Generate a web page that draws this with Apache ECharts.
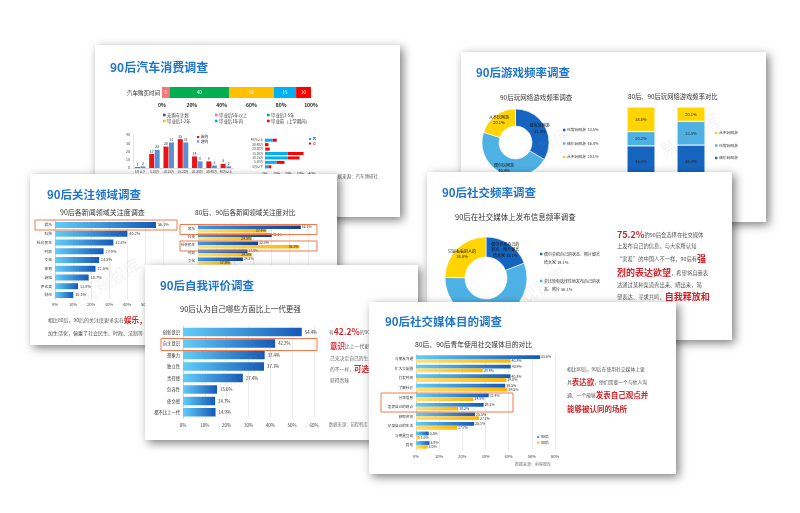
<!DOCTYPE html>
<html><head><meta charset="utf-8">
<script src="https://cdn.jsdelivr.net/npm/echarts/dist/echarts.min.js"></script>
<style>html,body{margin:0;padding:0;background:#fff}#c{width:800px;height:513px}</style>
</head><body><div id="c"></div><script>
// ---------- DATA ----------
// Slide 1: 90后汽车消费调查
const carBuyCategory = ['汽车购买时间'];
const carBuyNames = ['毕业后5年以上','毕业后3-5年','毕业后1-2年','毕业后1年内','毕业前（上学期间）'];
const carBuyValues = [5, 40, 30, 15, 10];
const carLegendNames = ['无购车计划','毕业后5年以上','毕业后3-5年','毕业后1-2年','毕业后1年内','毕业前（上学期间）'];
const carPriceCats = ['5万以下','5-10万','10-15万','15-20万','20-30万','30-40万','40万以上'];
const carPriceSeries = ['首购','增购'];
const carPriceFirst = [1, 17, 26, 35, 14, 8, 5];
const carPriceAgain = [2, 22, 31, 31, 8, 3, 2];
const carBudgetCats = ['40万以上','30-40万','20-30万','15-20万','10-15万','5-10万','5万以下'];
const carBudgetSeries = ['男','女'];
const carBudgetMale = [6.6, 0, 0.6, 19.4, 19.4, 10, 3];
const carBudgetFemale = [3.4, 3, 3.4, 13.4, 10, 6.6, 2.3];
// Slide 2: 90后游戏频率调查
const gameFreqNames = ['经常玩网游','偶尔玩网游','从不玩网游'];
const gameFreqValues = [33.5, 46.4, 20.1];
const gameGenCats = ['80后','90后'];
const gameStackNames = ['偶尔玩网游','经常玩网游','从不玩网游'];
const gameOccasional = [45.3, 46.4];
const gameOften = [20.2, 33.5];
const gameNever = [34.6, 20.1];
const gameLegendNames = ['从不玩网游','经常玩网游','偶尔玩网游'];
// Slide 3: 90后关注领域调查
const newsCats = ['娱乐','科技','社会民生','时政','文化','体育','游戏','评论类','财经'];
const news90 = [56.1, 40.2, 32.4, 27.0, 24.5, 22.5, 18.7, 12.8, 10.1];
const newsCmp90 = [56.1, 40.2, 32.8, 27.0, 24.5, 22.5, 18.7, 12.8, 10.1];
const newsCmp80 = [37.4, 29.5, 55.3, 29.5, 17.8, 25.2, 12.3, 14.6, 20.4];
// Slide 4: 90后社交频率调查
const socialFreqNames = ['偶尔会把自己的状态、照片留言给大家','会比较有选择性地发布自己的状态、照片','只是看看别人的'];
const socialFreqValues = [19.1, 56.1, 24.8];
// Slide 5: 90后自我评价调查
const selfCats = ['创新意识','自主意识','想象力','独立性','责任感','包容性','使命感','都不比上一代'];
const selfValues = [54.4, 42.2, 37.4, 37.1, 27.4, 15.6, 14.7, 14.9];
// Slide 6: 90后社交媒体目的调查
const purposeCats = ['与朋友沟通','扩大交友圈','打发时间','了解社会','分享信息','发表自己的观点','获取资讯','记录自己的生活','与明星互动','其他'];
const purposeSeries = ['90后','80后'];
const purpose90 = [53.6, 40.9, 40.8, 38.5, 31.4, 29.2, 25.5, 25.1, 5.5, 5.8];
const purpose80 = [40.8, 28.9, 39.0, 39.5, 24.8, 18.2, 27.2, 17.7, 1.6, 5.0];

// ---------- STYLE ----------
const FONT = '"Noto Sans CJK SC","Noto Sans",sans-serif';
const TITLE = '#1f74cc';
const RED = '#d2232a';
const DKBLUE = '#1565c0', LTBLUE = '#4db1e6', YELLOW = '#ffd400';
const G = echarts.graphic;
const blueGrad = () => new G.LinearGradient(0,0,1,0,[{offset:0,color:'#62cdf8'},{offset:1,color:'#1559b8'}]);
const deepGrad = () => new G.LinearGradient(0,0,1,0,[{offset:0,color:'#3f9be6'},{offset:1,color:'#0c3f92'}]);
const yelGrad = () => new G.LinearGradient(0,0,1,0,[{offset:0,color:'#ffe27a'},{offset:1,color:'#ffb400'}]);
const pct = p => p.value.toFixed(1) + '%';

const grids = [], xAxes = [], yAxes = [], series = [], gfx = [];
function addGrid(g){ grids.push(g); return grids.length - 1; }
function valAxis(gi, max, interval, z, fs, extra){
  return Object.assign({type:'value', gridIndex:gi, min:0, max, interval, z,
    axisLabel:{fontSize:fs, color:'#444', formatter:'{value}%', margin:3},
    splitLine:{show:true, lineStyle:{color:'#d9d9d9', width:0.5}},
    axisLine:{show:false}, axisTick:{show:false}}, extra || {});
}
function catAxis(gi, data, z, fs, extra){
  return Object.assign({type:'category', gridIndex:gi, data, inverse:true, z,
    axisLabel:{fontSize:fs, color:'#333', interval:0, margin:3},
    axisLine:{show:true, lineStyle:{color:'#bfbfbf', width:0.5}}, axisTick:{show:false}}, extra || {});
}
function slide(x,y,w,h,z){
  return {type:'rect', z, silent:true, shape:{x,y,width:w,height:h},
    style:{fill:'#fff', shadowBlur:9, shadowColor:'rgba(0,0,0,0.5)', shadowOffsetX:3, shadowOffsetY:3}};
}
function txt(x,y,text,z,opt){
  return {type:'text', x, y, z, silent:true,
    style:Object.assign({text, fill:'#333', fontSize:6, fontFamily:FONT, textVerticalAlign:'middle'}, opt || {})};
}
function rich(x,y,text,z,nSize,rSize,nColor){
  return {type:'text', x, y, z, silent:true, style:{text, textVerticalAlign:'middle', fontFamily:FONT,
    rich:{n:{fill:nColor || '#555', fontSize:nSize, fontFamily:FONT},
          r:{fill:RED, fontSize:rSize, fontWeight:'bold', fontFamily:FONT}}}};
}
function box(x,y,w,h,z){
  return {type:'rect', z, silent:true, shape:{x,y,width:w,height:h}, style:{fill:'none', stroke:'#f27a4c', lineWidth:1}};
}
function legendItem(x,y,name,color,z,fs,ms,circle){
  const m = circle
    ? {type:'circle', z, silent:true, shape:{cx:x+ms/2, cy:y, r:ms/2}, style:{fill:color}}
    : {type:'rect', z, silent:true, shape:{x, y:y-ms/2, width:ms, height:ms}, style:{fill:color}};
  return [m, txt(x+ms+1.5, y, name, z, {fontSize:fs, fill:'#333'})];
}
function watermark(x,y,z){
  return {type:'text', x, y, z, silent:true, rotation:0.55,
    style:{text:'易观智库', fill:'rgba(150,150,150,0.10)', fontSize:17, fontFamily:FONT, textAlign:'center', textVerticalAlign:'middle'}};
}
function wrap(s, n){ const out=[]; for(let i=0;i<s.length;i+=n) out.push(s.slice(i,i+n)); return out; }

// ---------- SLIDE 1 (z 10) ----------
gfx.push(slide(95,45,305,172,10));
gfx.push(txt(110,67,'90后汽车消费调查',13,{fontSize:12,fontWeight:'bold',fill:TITLE}));
const carBuyColors = ['#f4777a','#00b050','#ffc000','#00b0f0','#ff0000'];
const g0 = addGrid({left:162, top:87, width:149, height:11});
xAxes.push({type:'value', gridIndex:g0, min:0, max:100, interval:20, z:11,
  axisLabel:{fontSize:5, fontWeight:'bold', color:'#222', formatter:'{value}%', margin:5},
  splitLine:{show:false}, axisLine:{show:false}, axisTick:{show:false}});
yAxes.push({type:'category', gridIndex:g0, data:carBuyCategory, z:11,
  axisLabel:{fontSize:5.5, color:'#222', margin:2}, axisLine:{show:true, lineStyle:{color:'#999', width:0.5}}, axisTick:{show:false}});
carBuyNames.forEach((n,i)=>series.push({type:'bar', name:n, stack:'buy', xAxisIndex:xAxes.length-1, yAxisIndex:yAxes.length-1,
  data:[carBuyValues[i]], barWidth:11, z:12, itemStyle:{color:carBuyColors[i]},
  label:{show:true, position:'inside', color:'#fff', fontSize:4.5}}));
const carLegendColors = ['#2f5597','#f4777a','#00b050','#ffc000','#00b0f0','#ff0000'];
carLegendNames.forEach((n,i)=>gfx.push(...legendItem(163 + (i%3)*52, 115 + Math.floor(i/3)*6, n, carLegendColors[i], 13, 4.3, 2.6)));
// price column chart
const g1 = addGrid({left:133, top:135, width:100, height:33});
xAxes.push({type:'category', gridIndex:g1, data:carPriceCats, z:11,
  axisLabel:{fontSize:3, color:'#444', interval:0, margin:2}, axisLine:{lineStyle:{color:'#bbb', width:0.5}}, axisTick:{show:false}});
yAxes.push({type:'value', gridIndex:g1, min:0, max:40, interval:10, z:11,
  axisLabel:{fontSize:3.5, color:'#444', margin:3}, splitLine:{show:false}, axisLine:{show:true, lineStyle:{color:'#ccc', width:0.5}}, axisTick:{show:false}});
[[carPriceFirst,'#e8141a'],[carPriceAgain,'#5b8fd6']].forEach(([d,c],i)=>series.push({type:'bar', name:carPriceSeries[i],
  xAxisIndex:xAxes.length-1, yAxisIndex:yAxes.length-1, data:d, barWidth:5, barGap:'10%', z:12, itemStyle:{color:c},
  label:{show:true, position:'top', fontSize:3.5, color:'#333', distance:1}}));
gfx.push(...legendItem(197,137,carPriceSeries[0],'#e8141a',13,3.8,2.2));
gfx.push(...legendItem(197,141.5,carPriceSeries[1],'#5b8fd6',13,3.8,2.2));
// budget horizontal stacked
const g2 = addGrid({left:265, top:138, width:47, height:31});
xAxes.push(valAxis(g2, 40, 10, 11, 3.5, {splitLine:{show:false}}));
yAxes.push(catAxis(g2, carBudgetCats, 11, 3, {axisLabel:{fontSize:3, color:'#444', interval:0, margin:2}}));
[[carBudgetMale,'#00b0f0'],[carBudgetFemale,'#ff0000']].forEach(([d,c],i)=>series.push({type:'bar', name:carBudgetSeries[i], stack:'bud',
  xAxisIndex:xAxes.length-1, yAxisIndex:yAxes.length-1, data:d, barWidth:3, z:12, itemStyle:{color:c}}));
gfx.push(...legendItem(309,139,carBudgetSeries[0],'#00b0f0',13,3.8,2));
gfx.push(...legendItem(309,143.5,carBudgetSeries[1],'#ff0000',13,3.8,2));
gfx.push(txt(333,176,'数据来源：汽车博研社',13,{fontSize:4.5,fill:'#666'}));

// ---------- SLIDE 2 (z 20) ----------
gfx.push(slide(461,52,305,170,20));
gfx.push(txt(476,73,'90后游戏频率调查',23,{fontSize:11.5,fontWeight:'bold',fill:TITLE}));
gfx.push(txt(500,98,'90后玩网络游戏频率调查',23,{fontSize:6.5,fill:'#333'}));
gfx.push(txt(628,97,'80后、90后玩网络游戏频率对比',23,{fontSize:6.3,fill:'#333'}));
const gameColors = [DKBLUE, LTBLUE, YELLOW];
series.push({type:'pie', z:22, center:[515.5,142.5], radius:[16.5,33.5], startAngle:90, clockwise:true, silent:true,
  data:gameFreqNames.map((n,i)=>({name:n, value:gameFreqValues[i], itemStyle:{color:gameColors[i]}})),
  itemStyle:{borderColor:'#fff', borderWidth:0.6}, labelLine:{show:false},
  label:{show:true, position:'inside', fontSize:4, lineHeight:5.5, color:'#111', formatter:p=>p.name+'\n'+pct(p)}});
gameFreqNames.forEach((n,i)=>gfx.push(...legendItem(563,130+i*13.5,n+'  '+gameFreqValues[i].toFixed(1)+'%',gameColors[i],23,3.8,2.4)));
const g3 = addGrid({left:616, top:107, width:100, height:71});
xAxes.push({type:'category', gridIndex:g3, data:gameGenCats, show:false, z:21});
yAxes.push({type:'value', gridIndex:g3, min:0, max:100.1, show:false, z:21, splitLine:{show:false}});
[[gameOccasional,DKBLUE],[gameOften,LTBLUE],[gameNever,YELLOW]].forEach(([d,c],i)=>series.push({type:'bar', name:gameStackNames[i], stack:'g',
  xAxisIndex:xAxes.length-1, yAxisIndex:yAxes.length-1, data:d, barWidth:28, z:22,
  itemStyle:{color:c, borderColor:'#fff', borderWidth:0.5},
  label:{show:true, position:'inside', fontSize:4, color:'#222', formatter:pct}}));
const gameLegendColors = [YELLOW, LTBLUE, DKBLUE];
gameLegendNames.forEach((n,i)=>gfx.push(...legendItem(715,133+i*12.5,n,gameLegendColors[i],23,3.8,2.4)));
gfx.push(watermark(540,150,23), watermark(690,135,23));

// ---------- SLIDE 3 (z 30) ----------
gfx.push(slide(30,174,307,171,30));
gfx.push(txt(47,195,'90后关注领域调查',33,{fontSize:11.5,fontWeight:'bold',fill:TITLE}));
gfx.push(txt(60,212,'90后各新闻领域关注度调查',33,{fontSize:7,fill:'#333'}));
gfx.push(txt(195,212,'80后、90后各新闻领域关注度对比',33,{fontSize:6.6,fill:'#333'}));
const g4 = addGrid({left:55, top:220.6, width:108, height:78.75});
xAxes.push(valAxis(g4, 60, 10, 31, 4));
yAxes.push(catAxis(g4, newsCats, 31, 3.8));
series.push({type:'bar', name:'90后', xAxisIndex:xAxes.length-1, yAxisIndex:yAxes.length-1, data:news90, barWidth:6, z:32,
  itemStyle:{color:blueGrad()}, label:{show:true, position:'right', fontSize:3.8, color:'#333', distance:2, formatter:pct}});
const g5 = addGrid({left:198, top:225, width:110, height:72});
xAxes.push(valAxis(g5, 60, 10, 31, 4));
yAxes.push(catAxis(g5, newsCats, 31, 3.5));
[[newsCmp90, deepGrad()],[newsCmp80, yelGrad()]].forEach(([d,c],i)=>series.push({type:'bar', name:purposeSeries[i],
  xAxisIndex:xAxes.length-1, yAxisIndex:yAxes.length-1, data:d, barWidth:3.6, barGap:'0%', z:32,
  itemStyle:{color:c}, label:{show:true, position:i===0?'right':'insideRight', fontSize:3.4, color:'#333', distance:1, formatter:pct}}));
gfx.push(box(35,220,142,10,33), box(180,224.5,137,10,33), box(180,241,137,10,33));
gfx.push(rich(48,320,'{n|相比80后，90后的关注度更多实在}{r|娱乐，}{n|更}',33,5,7.5));
gfx.push(rich(48,333,'{n|加生活化，偏重了社会民生、时政、法制等}',33,5,7.5));
gfx.push(watermark(250,250,33), watermark(110,280,33));

// ---------- SLIDE 4 (z 40) ----------
gfx.push(slide(427,172,305,168,40));
gfx.push(txt(442,193,'90后社交频率调查',43,{fontSize:11.5,fontWeight:'bold',fill:TITLE}));
gfx.push(txt(455,217,'90后在社交媒体上发布信息频率调查',43,{fontSize:7.5,fill:'#333'}));
const socialColors = [DKBLUE, LTBLUE, YELLOW];
series.push({type:'pie', z:42, center:[486,278], radius:[21,41], startAngle:90, clockwise:true, silent:true,
  data:socialFreqNames.map((n,i)=>({name:n, value:socialFreqValues[i], itemStyle:{color:socialColors[i]}})),
  itemStyle:{borderColor:'#fff', borderWidth:0.6}, labelLine:{show:false},
  label:{show:true, position:'inside', fontSize:4, lineHeight:5.5, color:'#111', formatter:p=>{
    const l = wrap(p.name,7); if (l[l.length-1].length < 7) l[l.length-1] += ' ' + pct(p); else l.push(pct(p)); return l.join('\n');}}});
[0,1].forEach(i=>{
  const l = wrap(socialFreqNames[i],14); const y = 254 + i*27;
  gfx.push({type:'rect', z:43, silent:true, shape:{x:540, y:y-1.2, width:2.4, height:2.4}, style:{fill:socialColors[i]}});
  gfx.push(txt(544,y,l[0],43,{fontSize:4,fill:'#333'}));
  gfx.push(txt(544,y+8,(l[1]||'')+' '+socialFreqValues[i].toFixed(1)+'%',43,{fontSize:4,fill:'#333'}));
});
gfx.push(rich(617,235,'{r|75.2%}{n|的90后会选择在社交媒体}',43,5.3,9));
gfx.push(rich(617,246,'{n|上发布自己的信息。与大家所认知}',43,5.3,9));
gfx.push(rich(617,259,'{n|“害羞”的中国人不一样，90后有}{r|强}',43,5.3,9));
gfx.push(rich(617,273,'{r|烈的表达欲望}{n|，希望将自我表}',43,5.3,9));
gfx.push(rich(617,285,'{n|达通过某种渠道秀出来、晒出来，渴}',43,5.3,9));
gfx.push(rich(617,297,'{n|望表达、寻求共鸣，}{r|自我释放和}',43,5.3,9));
gfx.push(watermark(535,290,43));

// ---------- SLIDE 5 (z 50) ----------
gfx.push(slide(145,265,273,175,50));
gfx.push(txt(160,286,'90后自我评价调查',53,{fontSize:11.5,fontWeight:'bold',fill:TITLE}));
gfx.push(txt(180,309,'90后认为自己哪些方面比上一代更强',53,{fontSize:7.5,fill:'#333'}));
const g6 = addGrid({left:183, top:326.3, width:131, height:91.8});
xAxes.push(valAxis(g6, 60, 10, 51, 4.5, {axisLabel:{fontSize:4.5, color:'#444', formatter:'{value}%', margin:5}}));
yAxes.push(catAxis(g6, selfCats, 51, 4.3));
series.push({type:'bar', name:'90后', xAxisIndex:xAxes.length-1, yAxisIndex:yAxes.length-1, data:selfValues, barWidth:8.5, z:52,
  itemStyle:{color:blueGrad()}, label:{show:true, position:'right', fontSize:4.3, color:'#333', distance:3, formatter:pct}});
gfx.push(box(161,338.5,156,12,53));
gfx.push(rich(329,332,'{n|有}{r|42.2%}{n|的90后认为自己的自主}',53,4.8,8.5,'#666'));
gfx.push(rich(330,346,'{r|意识}{n|比上一代更强，他们希望自}',53,4.8,7.5,'#666'));
gfx.push(rich(330,358,'{n|己来决定自己的生活，与上一代}',53,4.8,7.5,'#666'));
gfx.push(rich(330,369,'{n|的不一样，}{r|可选择性}{n|的产品更能}',53,4.8,7.5,'#666'));
gfx.push(rich(330,380,'{n|获得青睐}',53,4.8,7.5,'#666'));
gfx.push(txt(329,424,'数据来源：前程智库',53,{fontSize:4.3,fill:'#777'}));
gfx.push(watermark(250,365,53));

// ---------- SLIDE 6 (z 60) ----------
gfx.push(slide(369,302,307,172,60));
gfx.push(txt(385,322,'90后社交媒体目的调查',63,{fontSize:11.5,fontWeight:'bold',fill:TITLE}));
gfx.push(txt(415,344,'80后、90后青年使用社交媒体目的对比',63,{fontSize:6.8,fill:'#333'}));
const g7 = addGrid({left:416, top:354.2, width:139, height:95.5});
xAxes.push(valAxis(g7, 60, 10, 61, 4, {axisLabel:{fontSize:4, color:'#444', formatter:'{value}%', margin:5}}));
yAxes.push(catAxis(g7, purposeCats, 61, 3.6));
[[purpose90, blueGrad()],[purpose80, yelGrad()]].forEach(([d,c],i)=>series.push({type:'bar', name:purposeSeries[i],
  xAxisIndex:xAxes.length-1, yAxisIndex:yAxes.length-1, data:d, barWidth:3.8, barGap:'0%', z:62,
  itemStyle:{color:c}, label:{show:true, position:'right', fontSize:3.5, color:'#333', distance:1, formatter:pct}}));
gfx.push(box(381,393,132,19,63));
gfx.push(...legendItem(537,437,purposeSeries[0],'#1e88e5',63,3.8,2.2,true));
gfx.push(...legendItem(537,442.5,purposeSeries[1],'#ffb400',63,3.8,2.2,true));
gfx.push(txt(515,464,'数据来源：前程智库',63,{fontSize:4,fill:'#777'}));
gfx.push(rich(567,369,'{n|相比80后，90后在使用社交媒体上更}',63,4.8,7.5));
gfx.push(rich(567,382,'{n|具}{r|表达欲}{n|，他们需要一个与他人沟}',63,4.8,7.5));
gfx.push(rich(567,395,'{n|通、一个能够}{r|发表自己观点并}',63,4.8,7.5));
gfx.push(rich(567,409,'{r|能够被认同的场所}',63,4.8,7.5));

// ---------- CHART ----------
const chart = echarts.init(document.getElementById('c'), null, {renderer:'canvas'});
chart.setOption({
  animation:false,
  backgroundColor:'#ffffff',
  textStyle:{fontFamily:FONT},
  grid:grids.map(g=>Object.assign({containLabel:false}, g)),
  xAxis:xAxes, yAxis:yAxes, series,
  graphic:{elements:gfx}
});
</script></body></html>
